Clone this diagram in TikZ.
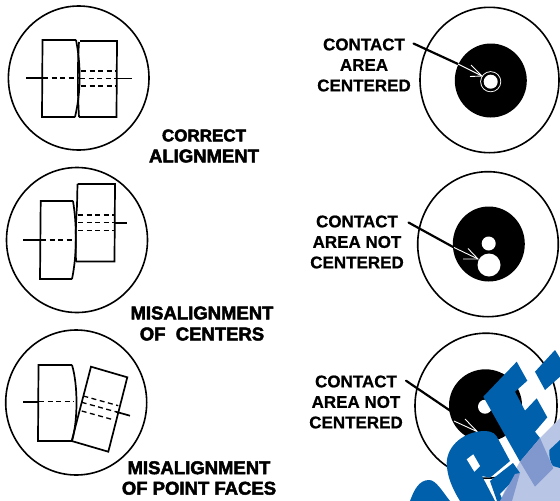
\documentclass[tikz,border=0pt]{standalone}
\usepackage{fontspec}
\setmainfont[BoldFeatures={FakeBold=0.7}]{Liberation Sans}
\newfontfamily\capfont[BoldFeatures={FakeBold=2.6}]{Liberation Sans}
\definecolor{logoblue}{HTML}{0060AC}
\definecolor{logolight}{HTML}{B9C5E5}
\definecolor{logomid}{HTML}{8198CF}
\tikzset{
  ring/.style={line width=1.6pt},
  block/.style={line width=1.7pt},
  axis/.style={line width=1.7pt},
  hidden/.style={line width=1.3pt,dash pattern=on 5pt off 3.5pt},
  contacttext/.style={align=center,font=\bfseries\fontsize{17}{20.5}\selectfont},
  heading/.style={align=center,font=\capfont\bfseries\fontsize{17}{21}\selectfont},
  leader/.style={line width=2.2pt,line cap=round},
  whitetip/.style={white,line width=0.9pt}
}
\begin{document}
\begin{tikzpicture}[x=1pt,y=-1pt]
  \useasboundingbox (0,0) rectangle (560,501);

  % correct alignment
  \draw[ring] (78.7,78) ellipse [x radius=70.3,y radius=72];
  \draw[block] (76,40) -- (42.5,40) -- (42,117) -- (75,117);
  \draw[block] (76,40) .. controls (81,65) and (81,92) .. (75,117);
  \draw[block] (80,41) -- (117,41) -- (116.5,117) -- (79,117);
  \draw[block] (79,42) .. controls (77.5,65) and (77.5,92) .. (79,117);
  \draw[axis] (26,78) -- (43,78);
  \draw[hidden] (43,78) -- (80,78);
  \draw[hidden] (80,78.5) -- (116,78.5);
  \draw[axis] (116,78.5) -- (132,78.5);
  \draw[hidden] (81,71) -- (116,71);
  \draw[hidden] (81,86) -- (116,86);

  % centered contact
  \draw[ring] (489.5,80) ellipse [x radius=69.5,y radius=72.7];
  \fill (490.8,80.5) ellipse [x radius=36,y radius=37];
  \fill[white] (490.7,81.7) circle [radius=10.5];
  \fill (490.7,81.7) circle [radius=9.6];
  \fill[white] (490.7,81.7) circle [radius=7];
  \coordinate (leadA) at (413.5,43.5);
  \coordinate (edgeA) at (458,64);
  \coordinate (tipA) at (482,76);
  \draw[leader] (leadA) -- (edgeA);
  \draw[whitetip] (edgeA) -- (tipA);
  \draw[whitetip] (471,65) -- (tipA) -- (470,76.5);
  \node[contacttext] (labelA) at (364,65) {CONTACT\\AREA\\CENTERED};
  \node[heading] (titleA) at (204,146) {CORRECT\\{\fontsize{18.5}{21}\selectfont ALIGNMENT}};

  % misaligned centers
  \draw[ring] (77,240) ellipse [x radius=70.5,y radius=72.5];
  \draw[block] (73,201) -- (40.7,201) -- (40,279) -- (72,279);
  \draw[block] (73,201) .. controls (77,225) and (77,255) .. (72,279);
  \draw[block] (77.5,184) -- (115,184) -- (114.5,261.5) -- (76,261.5);
  \draw[block] (77.5,184) -- (77,206);
  \draw[block] (77,206) .. controls (75.5,225) and (75.5,245) .. (76,261.5);
  \draw[axis] (23,240) -- (41,240);
  \draw[hidden] (41,240) -- (76,240);
  \draw[hidden] (78,222.7) -- (114,222.7);
  \draw[axis] (114,222.7) -- (127,222.7);
  \draw[hidden] (78,215) -- (114,215);
  \draw[hidden] (78,230.7) -- (114,230.7);

  % off centre contact
  \draw[ring] (488,244.2) ellipse [x radius=70.3,y radius=72.5];
  \fill (488.8,244) ellipse [x radius=36,y radius=37.5];
  \fill[white] (489,265) circle [radius=11.5];
  \fill[white] (488.7,243.5) circle [radius=7];
  \coordinate (leadB) at (408.5,222.5);
  \coordinate (edgeB) at (454,247.5);
  \coordinate (tipB) at (478,259);
  \draw[leader] (leadB) -- (edgeB);
  \draw[whitetip] (edgeB) -- (tipB);
  \draw[whitetip] (468,248.5) -- (tipB) -- (463,259);
  \node[contacttext] (labelB) at (357,242) {CONTACT\\AREA~NOT\\CENTERED};
  \node[heading,font=\capfont\bfseries\fontsize{18.5}{21}\selectfont] (titleB) at (202,323.5) {MISALIGNMENT\\OF~~CENTERS};

  % misaligned faces
  \draw[ring] (76.2,402.5) ellipse [x radius=70.5,y radius=72.5];
  \draw[block] (72,365) -- (38.5,365) -- (38,441) -- (72,441);
  \draw[block] (72,365) .. controls (78,385) and (78,420) .. (72,441);
  \draw[block] (91,366.7) -- (127.3,377.3) -- (108.3,451.7) -- (71.7,441) -- cycle;
  \draw[axis] (23,401.7) -- (39,401.7);
  \draw[hidden] (39,401.7) -- (74,401.7);
  \draw[hidden] (81.7,402.3) -- (116,411.8);
  \draw[axis] (116,411.8) -- (130,415.7);
  \draw[hidden] (83.3,396) -- (118.3,405.7);
  \draw[hidden] (81.7,411) -- (111.7,419.3);

  % off centre contact, faces
  \draw[ring] (486,405.7) ellipse [x radius=71,y radius=72.5];
  \fill (485.5,405.5) ellipse [x radius=36.5,y radius=36.2];
  \fill[white] (485,406.7) circle [radius=7];
  \coordinate (leadC) at (406,380.7);
  \coordinate (edgeC) at (451.7,411.7);
  \coordinate (tipC) at (477.3,431.7);
  \draw[leader] (leadC) -- (edgeC);
  \draw[whitetip] (465,419) -- (tipC) -- (454,421);
  \node[contacttext] (labelC) at (356,402) {CONTACT\\AREA~NOT\\CENTERED};
  \node[heading,font=\capfont\bfseries\fontsize{18.5}{20.5}\selectfont] (titleC) at (199,478) {MISALIGNMENT\\OF~POINT~FACES};

  % blue stamp over the corner
  \fill[logolight] (500,501) .. controls (508,483) and (515,470) .. (520,461.7) -- (540,438) -- (560,418) -- (560,501) -- cycle;
  \fill[logoblue] (483.3,396.7) -- (516.7,361.7) -- (527.3,380.7) -- (515,391.7) -- (525,410.7) -- (536.7,398.3) -- (547.3,417.3) -- (535,431.7) -- (540,438) -- (520,461.7) -- cycle;
  \fill[logomid] (540,438) -- (553.3,468.3) -- (535,486.7) -- (520,461.7) -- cycle;
  \fill[logoblue] (535,371.7) -- (555,350) -- (560,358) -- (560,376.7) -- (545,390) -- cycle;
  \fill[logoblue] (549.3,450) -- (560,440) -- (560,468) -- (553,466) .. controls (550,462) and (549,456) .. (549.3,450) -- cycle;
  \fill[logoblue] (446.7,463) .. controls (447,445) and (465,431) .. (485,431) .. controls (492,431) and (496,434) .. (498.3,439.3) -- (510,461) -- (490,477.7) -- (482,476) -- (495,501) -- (460,501) .. controls (452,488) and (447,476) .. (446.7,463) -- cycle;
  \fill[white] (466.7,459.3) -- (473.3,454.3) -- (480,466) -- (474.3,471.7) -- cycle;
  \fill[logoblue] (490,481) -- (513,463) -- (520,473) -- (500,494) -- (503,501) -- (497,501) -- cycle;
  \fill[logomid] (500,501) -- (515,474) -- (520,473) -- (512,501) -- cycle;
  \fill[logoblue] (410,501) .. controls (414,490) and (419,480) .. (429,480) .. controls (436,480) and (442,491) .. (450,501) -- cycle;
\end{tikzpicture}
\end{document}
